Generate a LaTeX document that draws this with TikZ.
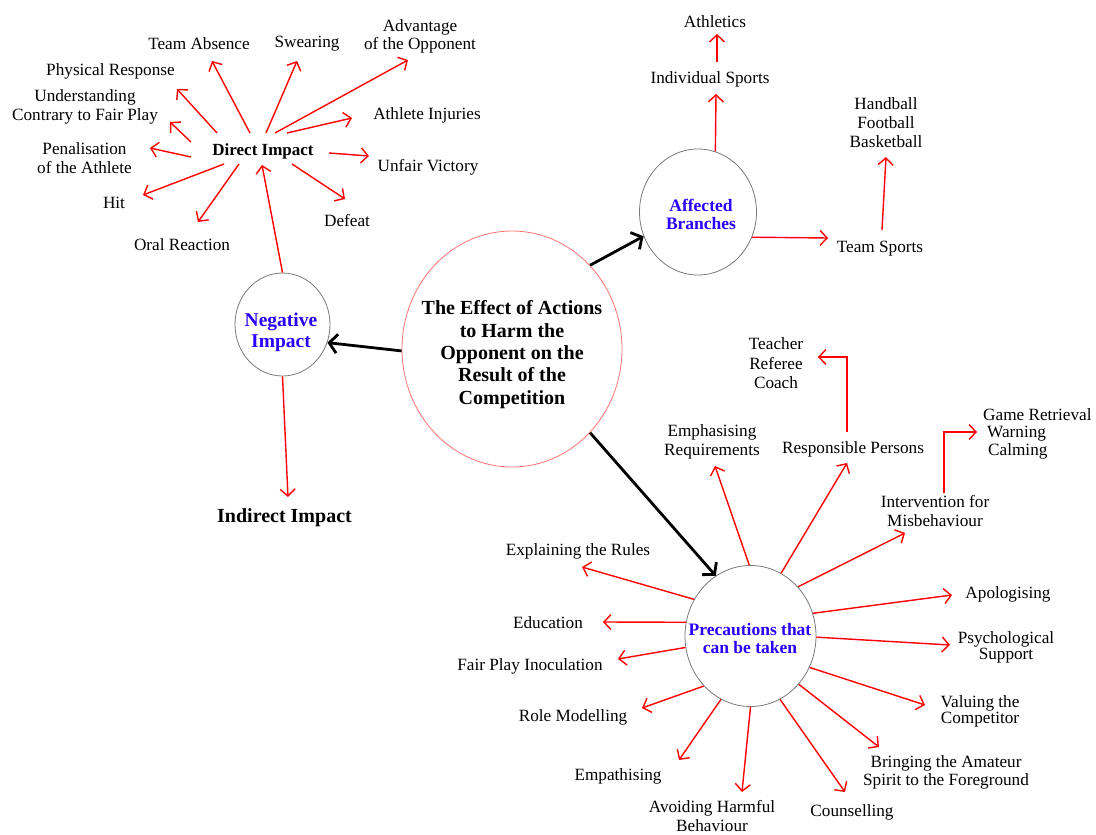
\documentclass[tikz,border=0pt]{standalone}
\usepackage{fontspec}
\setmainfont{Liberation Serif}
\usetikzlibrary{arrows.meta,shapes.geometric}
\definecolor{hlblue}{RGB}{40,0,255}
\definecolor{ringgray}{RGB}{120,120,120}
\begin{document}
\begin{tikzpicture}[x=1pt,y=-1pt,
  tx/.style={inner sep=0pt, yshift=-2.5pt},
  lab/.style={tx, align=center, font=\fontsize{17.2}{19}\selectfont},
  tight/.style={lab, font=\fontsize{17.2}{16.5}\selectfont},
  ring/.style={ellipse, draw=ringgray, line width=0.8pt, inner sep=0pt},
  hubtext/.style={tx, align=center, text=hlblue, font=\bfseries\fontsize{17.5}{18}\selectfont},
  ra/.style={draw=red, line width=1.4pt, -{Straight Barb[length=7pt,width=15pt]}},
  ba/.style={draw=black, line width=2.8pt, -{Straight Barb[length=8pt,width=19pt]}}
]
\useasboundingbox (0,0) rectangle (1096,835);

% central topic
\node[ellipse, draw=red!55, line width=0.8pt, inner sep=0pt,
      minimum width=220pt, minimum height=236pt] (main) at (512,349) {};
\node[tx, align=center, font=\bfseries\fontsize{20}{22.3}\selectfont]
  (maint) at (512,352) {The Effect of Actions\\to Harm the\\Opponent on the\\Result of the\\Competition};

% hubs
\node[ring, minimum width=95pt, minimum height=103pt] (neg) at (282.5,324.5) {};
\node[hubtext, font=\bfseries\fontsize{19.5}{21}\selectfont] (negt) at (281,330) {Negative\\Impact};
\node[ring, minimum width=117pt, minimum height=126pt] (ab) at (698,212) {};
\node[hubtext] (abt) at (701,212) {Affected\\Branches};
\node[ring, minimum width=131pt, minimum height=141pt] (pr) at (750.5,636) {};
\node[hubtext] (prt) at (750,636) {Precautions that\\can be taken};

% negative impact branch
\node[tx, font=\bfseries\fontsize{17}{19}\selectfont] (di) at (263,149) {Direct Impact};
\node[tx, font=\bfseries\fontsize{20}{22}\selectfont] (ind) at (284.5,515) {Indirect Impact};
\node[lab] (ta) at (199,41) {Team Absence};
\node[lab] (sw) at (307,41) {Swearing};
\node[lab, font=\fontsize{17.2}{18}\selectfont] (ad) at (420,34) {Advantage\\of the Opponent};
\node[lab] (ai) at (427,113) {Athlete Injuries};
\node[lab] (uv) at (428,165) {Unfair Victory};
\node[lab] (de) at (347,218) {Defeat};
\node[lab] (orr) at (182,242) {Oral Reaction};
\node[lab] (hit) at (114,200) {Hit};
\node[lab] (pen) at (84.5,156) {Penalisation\\of the Athlete};
\node[lab] (und) at (85,104) {Understanding\\Contrary to Fair Play};
\node[lab] (phr) at (110.5,69) {Physical Response};

% affected branches
\node[lab] (is) at (710,77) {Individual Sports};
\node[lab] (ath) at (715,19) {Athletics};
\node[lab] (ts) at (880,246) {Team Sports};
\node[lab] (hfb) at (886,120) {Handball\\Football\\Basketball};

% precautions
\node[lab] (emr) at (712,439) {Emphasising\\Requirements};
\node[lab] (rp) at (853,447) {Responsible Persons};
\node[lab, font=\fontsize{17.2}{19.5}\selectfont] (trc) at (776,361) {Teacher\\Referee\\Coach};
\node[lab] (ifm) at (935,509) {Intervention for\\Misbehaviour};
\node[lab, align=left, anchor=west, font=\fontsize{17.2}{17.5}\selectfont] (gwc) at (983,431)
  {Game Retrieval\\\hspace*{4pt}Warning\\\hspace*{5pt}Calming};
\node[lab] (ap) at (1008,592) {Apologising};
\node[tight] (ps) at (1006,645) {Psychological\\Support};
\node[tight] (vc) at (980,709) {Valuing the\\Competitor};
\node[lab, font=\fontsize{17.2}{18}\selectfont] (bas) at (946,770) {Bringing the Amateur\\Spirit to the Foreground};
\node[lab] (cou) at (852,810) {Counselling};
\node[lab] (ahb) at (712,814) {Avoiding Harmful\\Behaviour};
\node[lab] (emp) at (618,774) {Empathising};
\node[lab] (rm) at (573,715) {Role Modelling};
\node[lab] (fpi) at (530,664) {Fair Play Inoculation};
\node[lab] (edu) at (548,620) {Education};
\node[lab] (etr) at (578,549) {Explaining the Rules};

% main connectors
\draw[ba] (main.181) -- (neg.338);
\draw[ba] (main.47.5) -- (ab.204);
\draw[ba] (main.-47.5) -- (pr.120);

% negative impact
\draw[ra] (neg.north) -- ([shift={(-1,13.5)}]di.center);
\draw[ra] (neg.south) -- ([shift={(3.5,-20.5)}]ind.center);
\draw[ra] ([shift={(-13,-18.5)}]di.center) -- ([shift={(13,17.5)}]ta.center);
\draw[ra] ([shift={(3,-18.5)}]di.center) -- ([shift={(-10,17.5)}]sw.center);
\draw[ra] ([shift={(12,-18.5)}]di.center) -- ([shift={(-12,23.5)}]ad.center);
\draw[ra] ([shift={(24,-18.5)}]di.center) -- ([shift={(-75,2.5)}]ai.center);
\draw[ra] ([shift={(66,1.5)}]di.center) -- ([shift={(-59,-11.5)}]uv.center);
\draw[ra] ([shift={(29,12.5)}]di.center) -- ([shift={(-2,-21.5)}]de.center);
\draw[ra] ([shift={(-24,12.5)}]di.center) -- ([shift={(16,-22.5)}]orr.center);
\draw[ra] ([shift={(-39,12.5)}]di.center) -- ([shift={(29,-7.5)}]hit.center);
\draw[ra] ([shift={(-72,5.5)}]di.center) -- ([shift={(65.5,-10.5)}]pen.center);
\draw[ra] ([shift={(-72,-9.5)}]di.center) -- ([shift={(85,15.5)}]und.center);
\draw[ra] ([shift={(-46,-18.5)}]di.center) -- ([shift={(66.5,17.5)}]phr.center);

% affected branches
\draw[ra] (ab.74) -- ([shift={(6,14.5)}]is.center);
\draw[ra] ([shift={(7,-17.5)}]is.center) -- ([shift={(2,12.5)}]ath.center);
\draw[ra] (ab.-25) -- ([shift={(-52,-10.5)}]ts.center);
\draw[ra] ([shift={(2,-18.5)}]ts.center) -- ([shift={(0,34.5)}]hfb.center);

% precautions
\draw[ra] (pr.91) -- ([shift={(3,24.5)}]emr.center);
\draw[ra] (pr.64) -- ([shift={(-6,13.5)}]rp.center);
\draw[ra] ([shift={(-6,-17.5)}]rp.center) |- ([shift={(42,-6.5)}]trc.center);
\draw[ra] (pr.46.5) -- ([shift={(-30,21.5)}]ifm.center);
\draw[ra] ([shift={(9,-18.5)}]ifm.center) |- ([shift={(-6,-1.5)}]gwc.west);
\draw[ra] (pr.20) -- ([shift={(-56,0.5)}]ap.center);
\draw[ra] (pr.-1) -- ([shift={(-56,-2.5)}]ps.center);
\draw[ra] (pr.-28) -- ([shift={(-55,-6.5)}]vc.center);
\draw[ra] (pr.-45.7) -- ([shift={(-67,-25.5)}]bas.center);
\draw[ra] (pr.-65) -- ([shift={(-7,-20.5)}]cou.center);
\draw[ra] (pr.-90) -- ([shift={(30,-24.5)}]ahb.center);
\draw[ra] (pr.245) -- ([shift={(61,-16.5)}]emp.center);
\draw[ra] (pr.227) -- ([shift={(69,-9.5)}]rm.center);
\draw[ra] (pr.190) -- ([shift={(88,-7.5)}]fpi.center);
\draw[ra] (pr.168.5) -- ([shift={(55,-0.5)}]edu.center);
\draw[ra] (pr.147) -- ([shift={(4,15.5)}]etr.center);
\end{tikzpicture}
\end{document}
